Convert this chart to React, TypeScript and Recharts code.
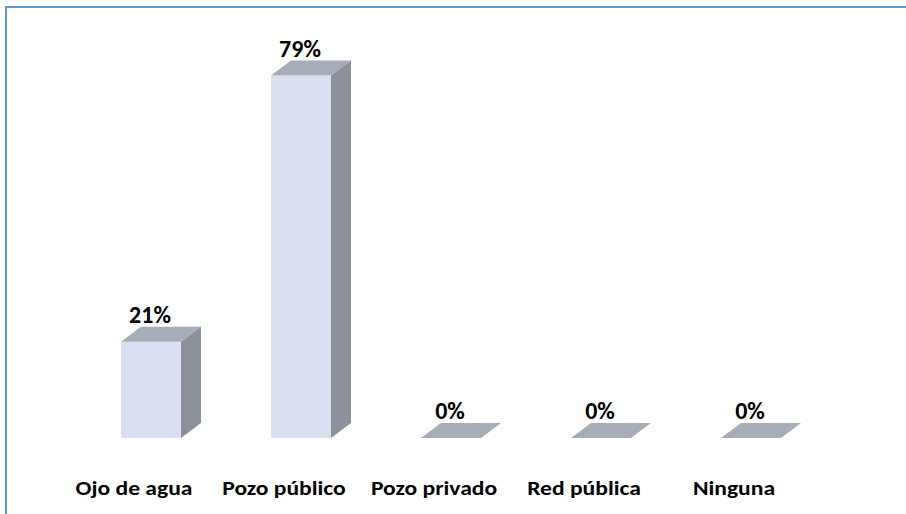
import { Bar, BarChart, LabelList, XAxis, YAxis } from "recharts";

const categories = ["Ojo de agua", "Pozo público", "Pozo privado", "Red pública", "Ninguna"];
const percentages = [21, 79, 0, 0, 0];

const data = categories.map((name, i) => ({ name, value: percentages[i] }));

const FONT = "Carlito, Calibri, 'Liberation Sans Narrow', 'Open Sans', sans-serif";
const DX = 20;
const DY = 15;

function Box3D(props: any) {
  const { x, y, width, height } = props;
  const bottom = y + height;
  if (height < 1) {
    return (
      <polygon
        points={`${x},${bottom} ${x + width},${bottom} ${x + width + DX},${bottom - DY} ${x + DX},${bottom - DY}`}
        fill="#a6adb9"
      />
    );
  }
  return (
    <g>
      <rect x={x} y={y} width={width} height={height} fill="#dae0f2" />
      <polygon
        points={`${x},${y} ${x + DX},${y - DY} ${x + width + DX},${y - DY} ${x + width},${y}`}
        fill="#a7adb8"
      />
      <polygon
        points={`${x + width},${y} ${x + width + DX},${y - DY} ${x + width + DX},${bottom - DY} ${x + width},${bottom}`}
        fill="#8b9099"
      />
    </g>
  );
}

function ValueLabel(props: any) {
  const { x, y, width, value } = props;
  return (
    <text
      x={x + width / 2 - 1}
      y={y - 19}
      textAnchor="middle"
      fontFamily={FONT}
      fontWeight={700}
      fontSize={24}
      fill="#000"
    >
      {`${value}%`}
    </text>
  );
}

function CategoryTick(props: any) {
  const { x, y, payload } = props;
  return (
    <text
      transform={`translate(${x - 17},${y + 49}) scale(1.18,1)`}
      textAnchor="middle"
      fontFamily={FONT}
      fontWeight={700}
      fontSize={20}
      fill="#000"
    >
      {payload.value}
    </text>
  );
}

export default function App() {
  return (
    <div style={{ position: "absolute", left: 0, top: 0, width: 906, height: 514, background: "#fff", overflow: "hidden" }}>
      <div
        style={{
          position: "absolute",
          left: 5,
          top: 6,
          width: 910,
          height: 520,
          borderLeft: "2px solid #5b9bd5",
          borderTop: "2px solid #5b9bd5",
        }}
      />
      <div style={{ position: "absolute", left: 0, top: 0 }}>
        <BarChart
          width={906}
          height={514}
          data={data}
          margin={{ top: 71, right: 80, left: 76, bottom: 0 }}
          barCategoryGap={45}
        >
          <XAxis
            dataKey="name"
            axisLine={false}
            tickLine={false}
            height={76}
            interval={0}
            tick={<CategoryTick />}
          />
          <YAxis hide domain={[0, 80]} />
          <Bar dataKey="value" barSize={60} shape={<Box3D />} isAnimationActive={false}>
            <LabelList dataKey="value" content={<ValueLabel />} />
          </Bar>
        </BarChart>
      </div>
    </div>
  );
}
